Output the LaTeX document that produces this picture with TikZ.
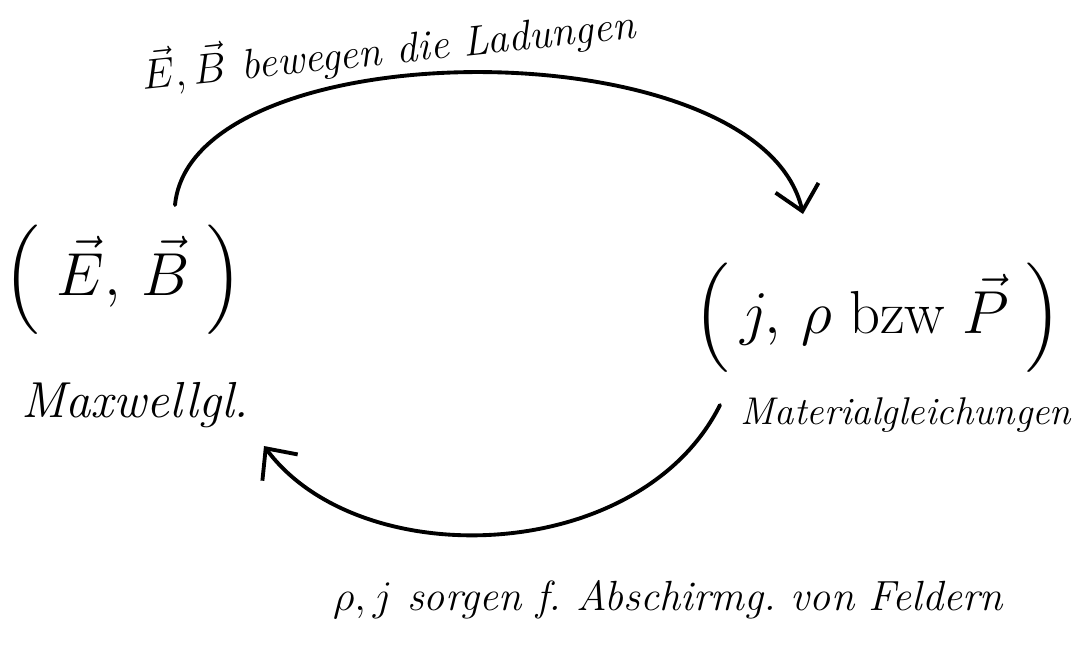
\documentclass[tikz,border=0pt]{standalone}
\usepackage{amsmath,amssymb}
\usetikzlibrary{arrows.meta}

\tikzset{
    loop/.style={line width=1.1pt, line cap=round, -{Straight Barb[length=2.4mm,width=4.4mm,line width=1.1pt]}},
    field/.style={font=\LARGE, inner sep=2pt},
    eqname/.style={font=\Large\itshape, inner sep=2pt},
    remark/.style={font=\large\itshape, inner sep=1pt}
}

\begin{document}
\begin{tikzpicture}[x=0.1mm, y=-0.1mm]
        \useasboundingbox (0,0) rectangle (1082,654);
        % left side: fields
        \node[field] (EB) at (123,280) {$\Bigl(\;\vec{E},\,\vec{B}\;\Bigr)$};
        \node[eqname] (maxwell) at (135,405) {Maxwellgl.};
        % right side: sources
        \node[field] (jrho) at (878,318) {$\Bigl(\,j,\,\rho\;\text{bzw}\;\vec{P}\;\Bigr)$};
        \node[eqname, font=\fontsize{11}{13}\selectfont\itshape] (material) at (906,415) {Materialgleichungen};
        % labels of the two arcs
        \node[remark, rotate=6] (move) at (388,48) {$\vec{E},\vec{B}$ bewegen die Ladungen};
        \node[remark] (screen) at (668,600) {$\rho,j$ sorgen f.\ Abschirmg.\ von Feldern};
        % ends of the arcs
        \coordinate (topstart) at (175,205);
        \coordinate (topend) at (803,214);
        \coordinate (botstart) at (720,405);
        \coordinate (botend) at (264,446);
        \draw[loop] (topstart) .. controls (192,28) and (760,26) .. (topend);
        \draw[loop] (botstart) .. controls (640,565) and (360,575) .. (botend);
    \end{tikzpicture}
\end{document}
